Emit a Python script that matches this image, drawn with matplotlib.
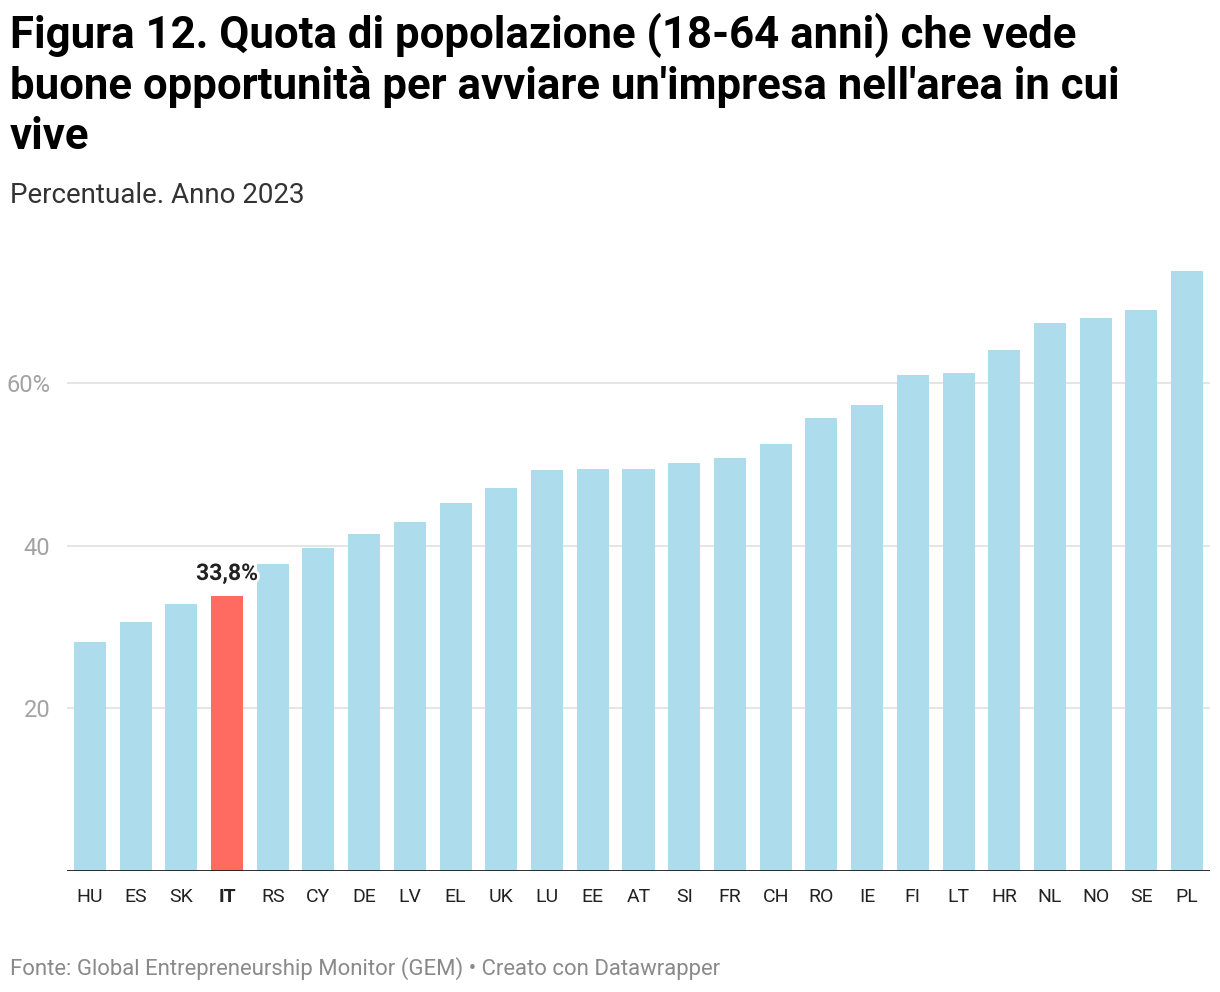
import matplotlib

matplotlib.use("Agg")

import matplotlib.pyplot as plt
import matplotlib.patheffects as pe

plt.rcParams["font.family"] = ["Roboto", "DejaVu Sans"]

COUNTRIES = ["HU", "ES", "SK", "IT", "RS", "CY", "DE", "LV", "EL", "UK", "LU", "EE", "AT",
             "SI", "FR", "CH", "RO", "IE", "FI", "LT", "HR", "NL", "NO", "SE", "PL"]
VALUES = [28.1, 30.6, 32.8, 33.8, 37.7, 39.7, 41.4, 42.9, 45.2, 47.1, 49.3, 49.4, 49.4,
          50.2, 50.8, 52.5, 55.7, 57.3, 61.0, 61.2, 64.0, 67.4, 68.0, 69.0, 73.8]
HIGHLIGHT = "IT"
Y_TICKS = [20, 40, 60]
Y_TICK_LABELS = ["20", "40", "60%"]

BAR_COLOR = "#addcec"
HIGHLIGHT_COLOR = "#ff6b61"

fig = plt.figure(figsize=(12.2, 9.92), dpi=100)
ax = fig.add_axes([67 / 1220, 1 - 871 / 992, (1210 - 67) / 1220, (871 - 261) / 992])

x = range(len(COUNTRIES))
colors = [HIGHLIGHT_COLOR if c == HIGHLIGHT else BAR_COLOR for c in COUNTRIES]
ax.bar(x, VALUES, width=0.7, color=colors, zorder=2)

ax.set_xlim(-0.5, len(COUNTRIES) - 0.5)
ax.set_ylim(0, 75)

for y in Y_TICKS:
    ax.axhline(y, color="#e3e3e3", lw=1.3, zorder=1)
ax.axhline(0, color="#1a1a1a", lw=2, zorder=3)

ax.set_yticks(Y_TICKS)
ax.set_yticklabels(Y_TICK_LABELS, fontsize=17, color="#a3a3a3")
ax.tick_params(axis="y", length=0, pad=12)
ax.set_xticks(list(x))
ax.set_xticklabels(COUNTRIES, fontsize=14, color="#222222")
ax.tick_params(axis="x", length=0, pad=12)
for lab in ax.get_xticklabels():
    if lab.get_text() == HIGHLIGHT:
        lab.set_fontweight("bold")
for s in ax.spines.values():
    s.set_visible(False)

hi = COUNTRIES.index(HIGHLIGHT)
ax.annotate(f"{VALUES[hi]:.1f}%".replace(".", ","), (hi, VALUES[hi]), xytext=(0, 8),
            textcoords="offset points", ha="center", va="bottom", fontsize=16.5,
            fontweight="bold", color="#222222", zorder=5,
            path_effects=[pe.withStroke(linewidth=4, foreground="white")])

fig.text(10 / 1220, 1 - 13 / 992,
         "Figura 12. Quota di popolazione (18-64 anni) che vede\n"
         "buone opportunità per avviare un'impresa nell'area in cui\nvive",
         fontsize=31.5, fontweight="bold", color="#000000", va="top", ha="left",
         linespacing=1.24)
fig.text(10 / 1220, 1 - 196 / 992, "Percentuale. Anno 2023", fontsize=20,
         color="#333333", va="center", ha="left")
fig.text(10 / 1220, 1 - 969 / 992,
         "Fonte: Global Entrepreneurship Monitor (GEM) • Creato con Datawrapper",
         fontsize=15.9, color="#8a8a8a", va="center", ha="left")

fig.savefig("out.png", dpi=100)
